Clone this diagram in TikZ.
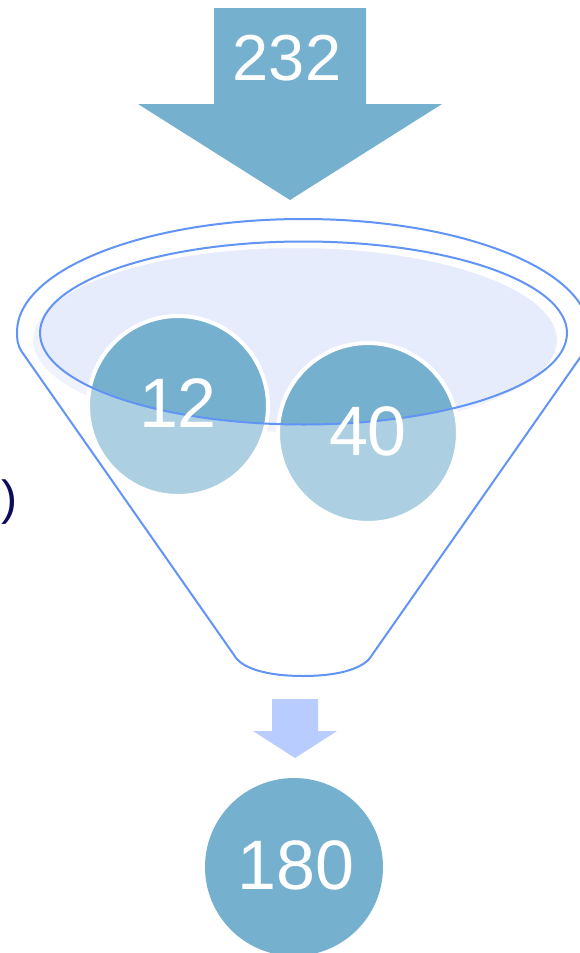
\documentclass[tikz,border=0pt]{standalone}
\usepackage{fontspec}
\setmainfont{Liberation Sans}
\definecolor{ballblue}{RGB}{118,176,207}
\definecolor{funnelline}{RGB}{98,148,246}
\definecolor{lavender}{RGB}{231,236,253}
\definecolor{smallarrow}{RGB}{185,204,255}
\definecolor{navytext}{RGB}{12,12,92}
\begin{document}
\begin{tikzpicture}[x=1pt,y=1pt,
  ball/.style={circle, fill=ballblue, draw=white, line width=4pt, minimum size=180pt, inner sep=0pt},
  numlabel/.style={text=white, inner sep=0pt, font=\fontsize{70}{70}\selectfont},
  fline/.style={draw=funnelline, line width=2pt}]
\useasboundingbox (0,0) rectangle (580,-953);
\clip (0,0) rectangle (580,-953);
\fill[white] (0,0) rectangle (580,-953);
% top arrow
\fill[ballblue] (214,-8) -- (366,-8) -- (366,-104) -- (442,-104) -- (290,-200) -- (138,-104) -- (214,-104) -- cycle;
\node[numlabel, font=\fontsize{65}{65}\selectfont] (t232) at (287,-58) {232};
% lavender ellipse
\filldraw[fill=lavender, draw=white, line width=2pt] (295,-340) ellipse [x radius=263, y radius=93];
% balls
\node[ball] (c12) at (178,-406) {};
\node[ball] (c40) at (368,-433) {};
% funnel overlay
\path[fill=white, fill opacity=0.4, even odd rule]
  (22,-352) .. controls (17,-345) and (17,-338) .. (17,-332)
  arc[start angle=180, end angle=0, x radius=286, y radius=113]
  .. controls (589,-338) and (589,-345) .. (584,-352) -- (372,-655)
  .. controls (365,-668) and (340,-676) .. (303,-676)
  .. controls (266,-676) and (241,-668) .. (234,-655) -- cycle
  (303.5,-333) ellipse [x radius=263.5, y radius=91.5];
\draw[fline]
  (22,-352) .. controls (17,-345) and (17,-338) .. (17,-332)
  arc[start angle=180, end angle=0, x radius=286, y radius=113]
  .. controls (589,-338) and (589,-345) .. (584,-352) -- (372,-655)
  .. controls (365,-668) and (340,-676) .. (303,-676)
  .. controls (266,-676) and (241,-668) .. (234,-655) -- cycle;
\draw[fline] (303.5,-333) ellipse [x radius=263.5, y radius=91.5];
\node[numlabel] (t12) at (178,-403) {12};
\node[numlabel] (t40) at (368,-431) {40};
% small arrow
\fill[smallarrow] (272,-699) -- (318,-699) -- (318,-731) -- (337,-731) -- (295,-758) -- (253,-731) -- (272,-731) -- cycle;
% result ball
\node[circle, fill=ballblue, minimum size=178pt, inner sep=0pt] (c180) at (294,-867) {};
\node[numlabel] (t180) at (296,-865) {180};
% stray paren
\node[text=navytext, inner sep=0pt, font=\fontsize{48}{48}\selectfont] (paren) at (9,-502) {)};
\end{tikzpicture}
\end{document}
